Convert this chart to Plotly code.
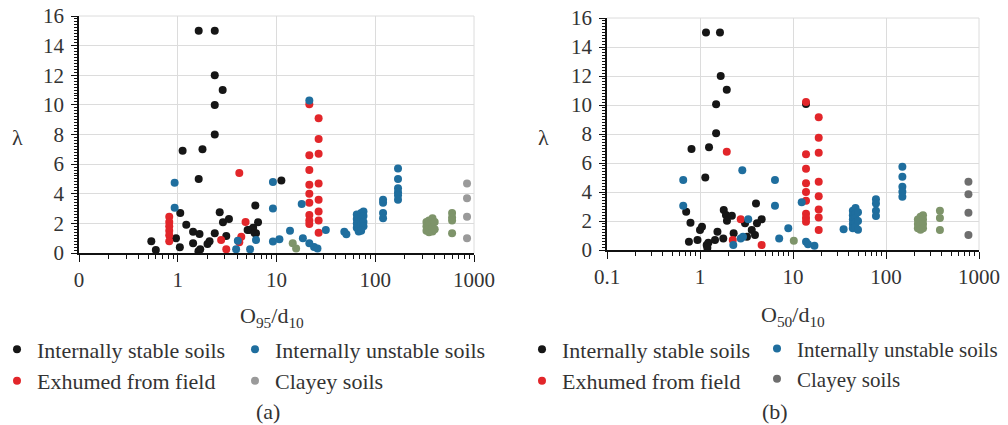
import plotly.graph_objects as go

# ---------------- Panel (a): O95/d10 ----------------
a_stable_x = [1.63, 2.37, 2.37, 2.85, 2.37, 2.37, 1.12, 1.78, 1.63, 11.2, 6.1, 1.06, 2.66, 2.87, 3.3,
              1.22, 0.96, 0.54, 0.6, 1.05, 1.43, 1.66, 1.43, 1.69, 1.62, 2.1, 2.37, 2.0, 3.1, 5.3,
              6.5, 6.2, 5.8, 5.1, 6.0]
a_stable_y = [15, 15, 12, 11, 10, 8, 6.9, 7, 5, 4.9, 3.2, 2.7, 2.75, 2.07, 2.3,
              1.9, 1.0, 0.8, 0.2, 0.38, 1.44, 1.28, 0.65, 0.25, 0.12, 0.8, 1.33, 0.6, 1.15, 1.55,
              2.07, 1.33, 1.7, 1.55, 1.35]

a_unstable_x = [0.93, 0.93, 9.2, 9.2, 18, 4.06, 3.9, 5.4, 6.2, 9.2, 10.7, 13.7, 18.5, 21.5, 26, 24,
                31.6, 48.6, 51, 21.5,
                65, 65, 65, 65, 68, 68, 72, 72, 72, 76, 76, 76, 76, 68, 72,
                120, 120, 120, 120, 170, 170, 170, 170, 170, 170]
a_unstable_y = [4.75, 3.06, 4.8, 3.0, 3.3, 0.83, 0.25, 0.25, 0.88, 0.77, 0.93, 1.5, 1.0, 0.65, 0.3, 0.4,
                1.55, 1.44, 1.26, 10.3,
                2.6, 2.3, 2.0, 1.7, 2.4, 1.6, 2.7, 2.2, 1.9, 2.8, 2.5, 2.1, 1.8, 1.45, 1.5,
                3.6, 3.4, 2.7, 2.35, 5.7, 5.0, 4.37, 4.1, 3.9, 3.6]

a_exhumed_x = [0.82, 0.82, 0.82, 0.82, 0.82, 0.82, 4.2, 2.75, 3.1, 4.86, 4.2, 4.4,
               21.5, 21.5, 21.5, 21.5, 21.5, 21.5, 21.5, 21.5, 21.5,
               26.7, 26.7, 26.7, 26.7, 26.7, 26.7, 26.7, 26.7]
a_exhumed_y = [2.45, 2.1, 1.8, 1.5, 1.2, 0.8, 5.4, 0.88, 0.25, 2.1, 0.72, 1.1,
               10.05, 6.6, 5.6, 4.6, 4.0, 3.4, 2.57, 2.2, 1.96,
               9.1, 7.7, 6.7, 4.7, 3.6, 2.8, 2.2, 1.37]

a_clayey_x = [850, 850, 850, 850]
a_clayey_y = [4.7, 3.7, 2.45, 1.0]

a_clayey2_x = [14.6, 15.8, 330, 330, 330, 350, 350, 350, 350, 380, 380, 380, 380, 400, 400,
               600, 600, 600, 600]
a_clayey2_y = [0.65, 0.3, 2.1, 1.8, 1.5, 2.2, 1.9, 1.6, 1.4, 2.35, 2.0, 1.7, 1.45, 2.1, 1.6,
               2.7, 2.4, 2.2, 1.33]

# ---------------- Panel (b): O50/d10 ----------------
b_stable_x = [1.16, 1.64, 1.67, 1.94, 1.49, 1.49, 0.81, 1.25, 1.14, 4.0, 0.71, 0.79, 1.8, 1.9, 1.95,
              2.2, 3.05, 4.1, 4.6, 3.6, 3.9, 1.0, 1.05, 0.94, 0.76, 1.18, 1.23, 1.45, 1.54, 1.78,
              3.2, 2.3, 13.8, 1.2]
b_stable_y = [15, 15, 12, 11.05, 10.05, 8.05, 6.97, 7.08, 5.0, 3.2, 2.64, 1.88, 2.76, 2.41, 2.02,
              2.37, 1.84, 1.84, 2.12, 1.38, 1.03, 1.38, 1.6, 0.69, 0.57, 0.34, 0.5, 0.69, 1.26, 0.8,
              0.92, 1.15, 10.07, 0.15]

b_unstable_x = [0.66, 0.66, 2.85, 6.4, 6.4, 3.3, 2.28, 2.74, 2.9, 8.9, 7.1, 12.4, 13.8, 17, 14.5, 35,
                44, 44, 44, 44, 44, 47, 47, 47, 47, 47, 50, 50, 50,
                78, 78, 78, 78, 150, 150, 150, 150, 150]
b_unstable_y = [4.83, 3.06, 5.5, 4.83, 3.06, 2.12, 0.34, 0.8, 0.92, 1.5, 0.8, 3.3, 0.57, 0.3, 0.4, 1.43,
                2.7, 2.4, 2.1, 1.8, 1.5, 2.9, 2.5, 2.2, 1.9, 1.6, 2.6, 2.0, 1.4,
                3.5, 3.2, 2.7, 2.35, 5.75, 5.05, 4.37, 4.02, 3.68]

b_exhumed_x = [1.94, 2.74, 2.25, 4.6,
               13.8, 13.8, 13.8, 13.8, 13.8, 13.8, 13.8, 13.8, 13.8,
               18.9, 18.9, 18.9, 18.9, 18.9, 18.9, 18.9, 18.9]
b_exhumed_y = [6.78, 2.12, 0.69, 0.34,
               10.2, 6.6, 5.6, 4.6, 4.0, 3.4, 2.5, 2.2, 1.95,
               9.15, 7.75, 6.7, 4.7, 3.7, 2.8, 2.25, 1.38]

b_clayey_x = [770, 770, 770, 770]
b_clayey_y = [4.7, 3.84, 2.57, 1.03]

b_clayey2_x = [10.2, 220, 220, 220, 235, 235, 235, 235, 250, 250, 250, 250, 380, 380, 380]
b_clayey2_y = [0.64, 2.1, 1.8, 1.5, 2.3, 2.0, 1.7, 1.4, 2.4, 2.1, 1.8, 1.5, 2.7, 2.2, 1.38]

# ---------------- Tick labels ----------------
x_tickvals = [0.1, 1, 10, 100, 1000]
a_ticktext = ["0", "1", "10", "100", "1000"]
b_ticktext = ["0.1", "1", "10", "100", "1000"]
y_tickvals = [0, 2, 4, 6, 8, 10, 12, 14, 16]

names = ["Internally stable soils", "Internally unstable soils", "Exhumed from field", "Clayey soils"]

C_BLACK = "#161616"
C_BLUE = "#1f6e9e"
C_RED = "#e2262a"
C_GRAY_A = "#9a9a9a"
C_GRAY_B = "#6e6e6e"
C_GREEN = "#7e946a"
C_GRID = "#dcdcdc"

FONT = "Liberation Serif"
TXT = "#333333"

# Figure fills the whole 1008x425 window (page body margin removed below).
W, H, OFF = 1008, 425, 0
def fx(px):
    return (px - OFF) / W
def fy(py):
    return (H + OFF - py) / H

fig = go.Figure()

def add(x, y, color, name, xa, ya, legend, show=True):
    fig.add_trace(go.Scatter(
        x=x, y=y, mode="markers", name=name,
        marker=dict(color=color, size=8, line=dict(width=0)),
        xaxis=xa, yaxis=ya, legend=legend, showlegend=show,
    ))

# Panel (a)
add(a_clayey2_x, a_clayey2_y, C_GREEN, "Clayey soils", "x", "y", "legend", False)
add(a_stable_x, a_stable_y, C_BLACK, names[0], "x", "y", "legend")
add(a_exhumed_x, a_exhumed_y, C_RED, names[2], "x", "y", "legend")
add(a_unstable_x, a_unstable_y, C_BLUE, names[1], "x", "y", "legend2")
add(a_clayey_x, a_clayey_y, C_GRAY_A, names[3], "x", "y", "legend2")
# Panel (b)
add(b_clayey2_x, b_clayey2_y, C_GREEN, "Clayey soils", "x2", "y2", "legend3", False)
add(b_stable_x, b_stable_y, C_BLACK, names[0], "x2", "y2", "legend3")
add(b_exhumed_x, b_exhumed_y, C_RED, names[2], "x2", "y2", "legend3")
add(b_unstable_x, b_unstable_y, C_BLUE, names[1], "x2", "y2", "legend4")
add(b_clayey_x, b_clayey_y, C_GRAY_B, names[3], "x2", "y2", "legend4")

minor_x = [m * 10 ** e for e in (-1, 0, 1, 2) for m in range(2, 10)]

def xax(domain, anchor, ticktext):
    return dict(
        type="log", range=[-1, 3], domain=domain, anchor=anchor, automargin=False,
        showline=True, linecolor="#111111", linewidth=1.5,
        ticks="outside", ticklen=7, tickcolor="#111111", tickwidth=1.2,
        tickmode="array", tickvals=x_tickvals, ticktext=ticktext, ticklabelstandoff=0,
        ticklabeloverflow="allow",
        showgrid=True, gridcolor=C_GRID, gridwidth=1, zeroline=False,
        minor=dict(tickmode="array", tickvals=minor_x, ticks="outside", ticklen=4,
                   tickcolor="#111111", showgrid=False),
        tickfont=dict(family=FONT, size=21, color=TXT),
    )

def yax(domain, anchor):
    return dict(
        range=[0, 16], domain=domain, anchor=anchor, automargin=False,
        showline=True, linecolor="#111111", linewidth=1.5,
        ticks="outside", ticklen=6, tickcolor="#111111", ticklabelstandoff=3,
        ticklabeloverflow="allow",
        tickmode="array", tickvals=y_tickvals,
        showgrid=True, gridcolor=C_GRID, gridwidth=1, zeroline=False,
        minor=dict(dtick=0.2, ticks="outside", ticklen=3, tickcolor="#111111", showgrid=False),
        tickfont=dict(family=FONT, size=21, color=TXT),
    )

legend_common = dict(
    orientation="v", yanchor="top", xanchor="left", bgcolor="rgba(0,0,0,0)",
    tracegroupgap=0, itemwidth=30,
)
LEG_FONT = dict(family=FONT, size=22, color=TXT)
LEG_FONT_R = dict(family=FONT, size=21, color=TXT)

def border(xd, yd):
    return [
        dict(type="line", xref=xd, yref=yd, x0=1, x1=1, y0=0, y1=1,
             line=dict(color=C_GRID, width=1), layer="below"),
        dict(type="line", xref=xd, yref=yd, x0=0, x1=1, y0=1, y1=1,
             line=dict(color=C_GRID, width=1), layer="below"),
    ]

LEG_Y = fy(328.4)
fig.update_layout(
    width=W, height=H,
    margin=dict(l=0, r=0, t=0, b=0, autoexpand=False),
    paper_bgcolor="white", plot_bgcolor="white",
    xaxis=xax([fx(79), fx(474)], "y", a_ticktext),
    yaxis=yax([fy(253), fy(16)], "x"),
    xaxis2=xax([fx(607), fx(979)], "y2", b_ticktext),
    yaxis2=yax([fy(250), fy(18)], "x2"),
    legend=dict(x=fx(-3), y=LEG_Y, font=LEG_FONT, **legend_common),
    legend2=dict(x=fx(235), y=LEG_Y, font=LEG_FONT, **legend_common),
    legend3=dict(x=fx(522), y=LEG_Y, font=LEG_FONT, **legend_common),
    legend4=dict(x=fx(757), y=LEG_Y, font=LEG_FONT_R, **legend_common),
    shapes=border("x domain", "y domain") + border("x2 domain", "y2 domain"),
)

ann_font = dict(family=FONT, size=22, color=TXT)
annotations = [
    dict(text="O<sub>95</sub>/d<sub>10</sub>", x=fx(272), y=fy(317)),
    dict(text="O<sub>50</sub>/d<sub>10</sub>", x=fx(793), y=fy(316)),
    dict(text="λ", x=fx(17), y=fy(137)),
    dict(text="λ", x=fx(543), y=fy(137)),
    dict(text="(a)", x=fx(268), y=fy(411)),
    dict(text="(b)", x=fx(775), y=fy(411)),
]
for a in annotations:
    fig.add_annotation(xref="paper", yref="paper", showarrow=False,
                       xanchor="center", yanchor="middle", font=ann_font, **a)

fig.write_html("out.html",
               config={"displayModeBar": False},
               post_script="document.body.style.margin='0';document.body.style.overflow='hidden';")
